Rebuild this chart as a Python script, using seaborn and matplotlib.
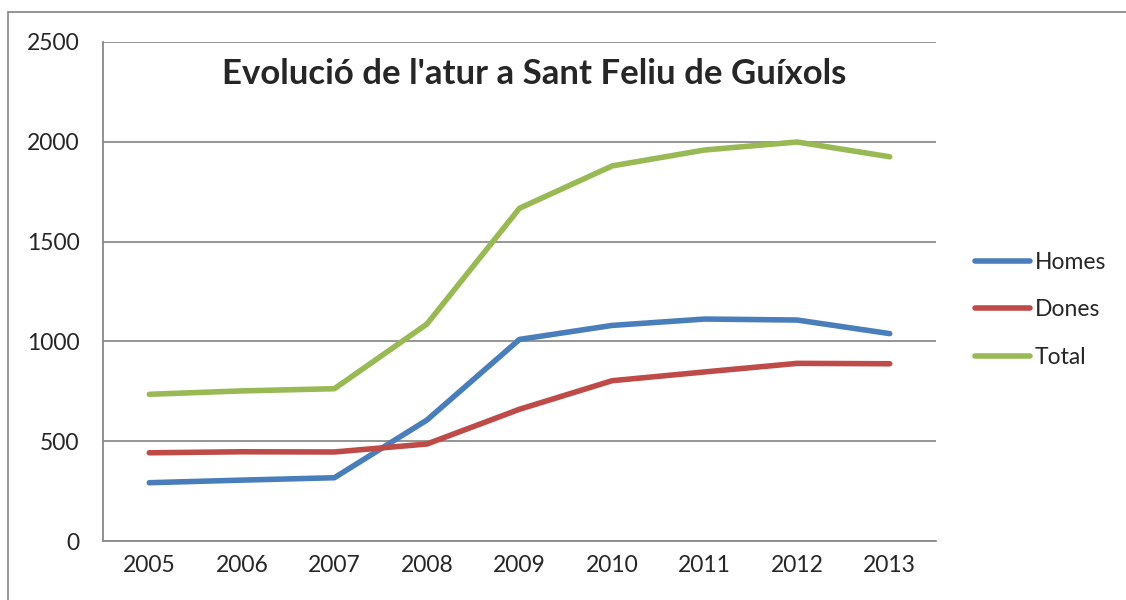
import numpy as np
import pandas as pd
import matplotlib
matplotlib.use("Agg")
import matplotlib.pyplot as plt
import seaborn as sns
from matplotlib.patches import Rectangle

# Data
years = ["2005", "2006", "2007", "2008", "2009", "2010", "2011", "2012", "2013"]
homes = [292, 305, 317, 606, 1010, 1080, 1112, 1107, 1039]
dones = [442, 447, 446, 486, 660, 803, 847, 890, 888]
total = [735, 752, 763, 1087, 1667, 1879, 1959, 1999, 1925]

df = pd.DataFrame({"Any": years, "Homes": homes, "Dones": dones, "Total": total})
long_df = df.melt(id_vars="Any", var_name="Serie", value_name="Aturats")
long_df["pos"] = long_df["Any"].map({y: i for i, y in enumerate(years)})

sns.set_style("white")
plt.rcParams["font.family"] = ["Lato", "DejaVu Sans"]

fig = plt.figure(figsize=(11.26, 6), dpi=100)
ax = fig.add_axes([103 / 1126, 59 / 600, 833 / 1126, 499 / 600])

palette = {"Homes": "#4a7ebb", "Dones": "#be4b48", "Total": "#98b954"}
sns.lineplot(data=long_df, x="pos", y="Aturats", hue="Serie", palette=palette,
             linewidth=4, ax=ax, solid_capstyle="round", legend=True)

ax.set_xlim(-0.5, len(years) - 0.5)
ax.set_ylim(0, 2500)
ax.set_yticks(np.arange(0, 2501, 500))
ax.set_xticks(np.arange(-0.5, len(years), 1.0))
ax.set_xticklabels([])
ax.set_xticks(np.arange(len(years)), minor=True)
ax.set_xticklabels(years, minor=True)
ax.tick_params(axis="x", which="major", direction="out", length=7, color="#888888", width=1.3)
ax.tick_params(axis="x", which="minor", length=0, pad=10, labelsize=16.5)
ax.tick_params(axis="y", direction="out", length=7, color="#888888", width=1.3, pad=10, labelsize=16.5)
ax.yaxis.grid(True, color="#8c8c8c", linewidth=1.3)
ax.set_axisbelow(True)
for s in ["top", "right"]:
    ax.spines[s].set_visible(False)
for s in ["left", "bottom"]:
    ax.spines[s].set_color("#888888")
    ax.spines[s].set_linewidth(1.3)
ax.set_xlabel("")
ax.set_ylabel("")

ax.text(0.518, 0.936, "Evolució de l'atur a Sant Feliu de Guíxols", transform=ax.transAxes,
        ha="center", va="center", fontsize=25, fontweight="bold")

handles, labels = ax.get_legend_handles_labels()
ax.legend(handles, labels, loc="center left", bbox_to_anchor=(1.047, 0.463), frameon=False,
          fontsize=16.5, handlelength=2.4, handletextpad=0.2, labelspacing=1.15,
          borderpad=0, borderaxespad=0)

fig.patches.append(Rectangle((8 / 1126, -0.05), 1.2, (600 - 12) / 600 + 0.05,
                             transform=fig.transFigure, fill=False,
                             edgecolor="#8c8c8c", linewidth=1.3))

fig.savefig("out.png", dpi=100)
